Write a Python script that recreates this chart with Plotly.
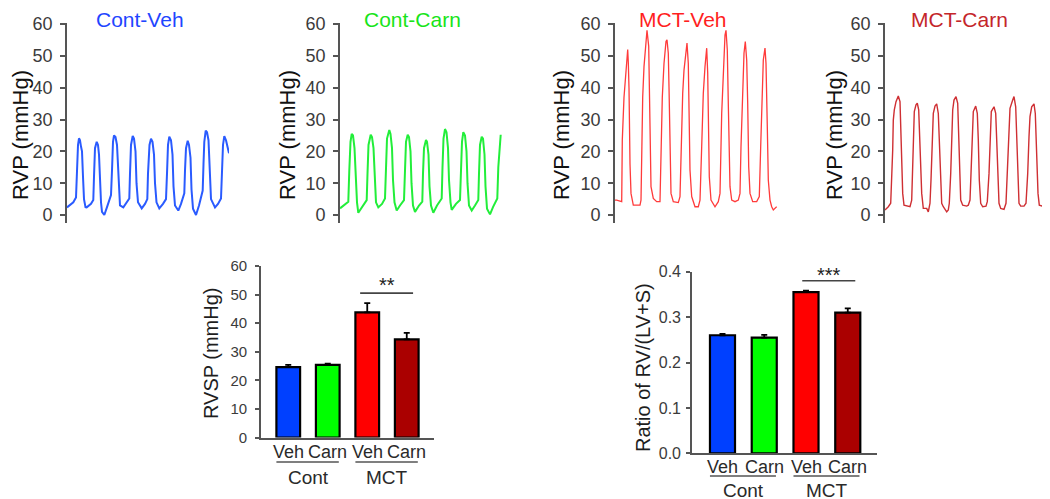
import plotly.graph_objects as go

W, H = 1050, 499
FONT = "Liberation Sans, Arial, Helvetica, sans-serif"

# ---------------- data: RVP traces (time units, mmHg) ----------------
cv_t = [0, 6.3, 9, 10, 11, 12, 13, 14, 15, 16, 17, 18.5, 19.7, 24, 26.3, 27, 28, 29.7, 31, 32, 33, 34, 35, 37.3,
        40, 44, 45, 46, 47, 48.5, 50, 51, 52, 53, 56.3, 59, 62.3, 63, 64, 65.7, 67, 68.5, 69.5, 71, 74.7, 78, 80.3,
        81, 82.5, 84, 85.5, 87, 88, 89.5, 92.3, 96, 99, 100, 101, 102.3, 104, 105.5, 106.5, 108, 111.3, 114, 117.3,
        118, 119, 120.7, 122, 123.5, 124.5, 126, 129, 132, 135.7, 136.5, 137.3, 138.7, 140, 141.5, 142.5, 144, 148,
        151, 154, 155, 156, 157.3, 159, 162]
cv_p = [2.4, 4, 5.5, 14, 22, 24.1, 23.5, 21.5, 20, 12, 5, 2.5, 2.4, 3.5, 4.7, 12, 21, 23, 22, 19, 10, 4, 1, 0,
        2.5, 6.3, 14, 23, 25, 24.5, 22, 14, 6, 3, 2.4, 3.5, 5.2, 13, 22, 24.8, 24, 20, 10, 4, 2.1, 3.5, 5,
        13, 22, 24, 23, 19, 10, 4, 2.1, 3.5, 5, 13, 22, 24.6, 23.5, 19, 9, 3, 1.4, 3.5, 6.8,
        14, 21, 23.3, 22, 18, 8, 2, 0, 3, 7.7, 16, 23, 26.5, 26, 23.5, 14, 5, 2.4,
        3.5, 5.2, 14, 22, 24.8, 23.5, 19.4]

cc_t = [0, 6, 8.3, 9.3, 10.5, 11.7, 13, 14.5, 15.5, 17, 18.3, 22, 26.7, 27.5, 28.5, 30.7, 32, 33.5, 34.5, 36, 38.3,
        42, 45, 46, 47, 49.3, 50.5, 52, 53, 54.5, 56.7, 60, 64, 65, 66, 67.7, 69, 70.5, 71.5, 73, 75, 79, 82.3, 83,
        84, 86, 87, 88.5, 89.5, 91, 93.3, 97, 101.7, 102.5, 103.5, 105, 106.5, 108, 109, 110.5, 111.7, 116, 120, 121,
        122, 123.3, 125, 126.5, 127.5, 129, 131.7, 135, 138.3, 139, 140, 141.7, 143, 144.5, 145.5, 147, 150, 153,
        157.3, 158.3, 160.7]
cc_p = [2.1, 3.5, 4.2, 14, 23, 25.5, 25, 21, 12, 4, 0.7, 2.5, 4.7, 13, 22, 25.2, 24.5, 21, 12, 4, 2.4,
        3.5, 5.2, 15, 24, 26.7, 25.5, 21, 11, 4, 1.4, 3, 4.7, 14, 23, 25.2, 24.5, 20, 10, 3, 1, 3, 4.2, 13,
        21, 23.6, 23, 19, 9, 3, 0.7, 3, 5.2, 15, 24, 27, 26, 21, 11, 4, 1.6, 3.5, 4.7, 14,
        23, 26, 25, 20, 10, 3, 1.4, 3, 4.7, 13, 22, 24.6, 24, 19, 9, 2, 0.2, 2.5,
        5.2, 15, 25.2]

mv_t = [0, 1.7, 6.7, 7.3, 9, 10, 11.7, 12.7, 13.3, 14, 15, 16, 18.3, 25, 26, 26.7, 27.7, 29, 30.7, 32, 33.7, 34.3,
        35, 36, 38.3, 41.7, 45, 46, 47.3, 49, 51, 52, 53.3, 54, 55, 56, 58.3, 63.3, 65, 66, 67.7, 69, 71, 72, 73.3,
        74.3, 75, 76.7, 80, 83.3, 85, 86.7, 88.3, 90, 91.7, 92.7, 93.7, 94.3, 96, 100, 103.3, 105, 106.7, 108.3,
        110, 111, 112.3, 113.3, 114, 115, 116.7, 120, 123.3, 125, 126, 127.3, 129, 130.3, 131.7, 132.7, 133.7, 135,
        137.7, 141.7, 144.3, 145.7, 147, 148.3, 150, 151, 152.3, 153.3, 155, 156.7, 158.3, 160, 161.7]
mv_p = [4.7, 4.7, 4.2, 23.6, 37, 41, 47.6, 52, 48, 40, 16, 6.8, 3.1, 3.1, 4.7, 17, 37, 46.6, 55, 58, 53, 42.4,
        19.4, 8.9, 5.2, 4.2, 4.2, 17, 37, 47.6, 54.5, 55, 50.8, 40.3, 15.2, 6.8, 4.2, 3.9, 5.8, 19.4, 38.2, 45.5,
        52.9, 54, 47.6, 29.8, 14.1, 5.8, 2.6, 2.6, 4.7, 21.5, 38.2, 46.6, 52.4, 44.6, 24.6, 12, 4.7, 2.6, 4.2,
        6.8, 31.9, 45.5, 56.5, 58, 51.8, 35, 17.3, 8.9, 4.7, 4.2, 4.7, 6.8, 21.5, 37.2, 50.8, 54.5, 48.7, 35,
        15.2, 6.8, 4.2, 4.2, 5.8, 21.5, 37.2, 48.7, 52.4, 47.6, 27.7, 11, 4.7, 2.6, 1.6, 2.1, 2.6]

mc_t = [0, 3.3, 5.7, 6.7, 7.7, 8.3, 9.3, 11, 13.3, 15, 16, 17, 17.7, 19, 23.3, 25, 26.7, 27.3, 28.3, 29.3, 31,
        32.3, 33.7, 35, 35.7, 36.7, 38.3, 41.7, 43.3, 45, 46, 47, 48.3, 50, 51.7, 53.3, 54.3, 55.3, 56.7, 58.3,
        61.7, 63.3, 64.3, 65.7, 66.7, 67.7, 69, 71, 72.7, 73.7, 74.7, 75.7, 77.7, 81.7, 83.3, 85, 86, 87, 88.3,
        90.7, 92.3, 93.3, 94.3, 95.7, 97.7, 101, 102.3, 104, 105, 106.3, 109, 110.7, 111.7, 112.7, 114, 115.7,
        119, 121, 122.3, 123.3, 125, 127.7, 129, 130.7, 131.7, 132.7, 134, 135.7, 139, 141, 142.7, 144, 145,
        146.7, 149, 150.3, 151, 152, 153, 154.3, 157.7, 160, 161.7]
mc_p = [1.6, 2.6, 3.7, 11, 20.4, 29.8, 33, 35.6, 37.4, 35.6, 26.7, 16.2, 6.8, 3.1, 2.8, 2.6, 4.7, 12, 24.6, 32.5,
        34.6, 35.1, 33, 23.6, 15.2, 6.8, 2.1, 2.1, 1, 3.7, 11, 23.6, 31.9, 34.2, 34.9, 31.9, 21.5, 11, 3.7, 2.6,
        1, 1.6, 3.7, 13, 25.7, 33, 36.1, 37.2, 35.1, 25.7, 13, 4.7, 3.1, 2.8, 3.1, 4.7, 13, 24.6, 32.5,
        34.2, 31.9, 23.6, 11, 3.7, 2.6, 2.8, 4.2, 13, 23.6, 32.5, 34, 31.9, 23.6, 12, 3.7, 2.1,
        1.8, 3.7, 13, 24.6, 33.5, 36.1, 37.2, 34, 24.6, 12, 3.7, 2.8, 2.8, 3.7, 13, 24.6, 30.9,
        34, 34.9, 31.9, 26.7, 16.2, 6.8, 3.1, 2.8, 1.6, 1.4]

trace_titles = ["Cont-Veh", "Cont-Carn", "MCT-Veh", "MCT-Carn"]
rvp_ticks = [0, 10, 20, 30, 40, 50, 60]

# ---------------- data: bar charts ----------------
groups = ["Cont", "MCT"]
bar_labels = ["Veh", "Carn", "Veh", "Carn"]
rvsp_mean = [24.6, 25.4, 43.8, 34.3]
rvsp_sem = [0.8, 0.4, 3.2, 2.3]
rvsp_ticks = [0, 10, 20, 30, 40, 50, 60]
ratio_mean = [0.260, 0.255, 0.355, 0.310]
ratio_sem = [0.003, 0.006, 0.003, 0.009]
ratio_ticks = [0.0, 0.1, 0.2, 0.3, 0.4]
rvsp_sig = 50.5
ratio_sig = 0.380

# ---------------- styles ----------------
trace_colors = ["#2a5bff", "#22ee3a", "#ff3b3b", "#cf2f33"]
trace_widths = [2.0, 2.0, 1.3, 1.4]
title_colors = ["#1f46ff", "#18e41a", "#ff1f1f", "#c4262a"]
bar_colors = ["#0040ff", "#00ff00", "#ff0000", "#aa0000"]
AX = "#555555"
TXT = "#3b3b3b"

# the page shows the figure with the browser's default 8px body margin
OFF = 8


def px(xp):
    return (xp - OFF) / W


def py(yp):
    return 1 - (yp - OFF) / H


fig = go.Figure()
layout = dict(width=W, height=H, margin=dict(l=0, r=0, t=0, b=0, pad=0, autoexpand=False),
              paper_bgcolor="white", plot_bgcolor="white", showlegend=False,
              font=dict(family=FONT, color=TXT), template="none")
annotations = []
shapes = []

top_axes_px = [67, 340, 615, 885]
top_ylab_gap = [46, 52, 53, 50]
top_title_px = [140, 412, 683, 959]
series = [(cv_t, cv_p), (cc_t, cc_p), (mv_t, mv_p), (mc_t, mc_p)]
for i, (t, p) in enumerate(series):
    n = i + 1
    xa = "x" if n == 1 else f"x{n}"
    ya = "y" if n == 1 else f"y{n}"
    fig.add_trace(go.Scatter(x=t, y=p, mode="lines", xaxis=xa, yaxis=ya,
                             line=dict(color=trace_colors[i], width=trace_widths[i]),
                             hoverinfo="skip"))
    x0 = top_axes_px[i]
    layout[f"xaxis{n if n > 1 else ''}"] = dict(domain=[px(x0), px(x0 + 162)], range=[0, 162],
                                                  visible=False, anchor=ya, automargin=False)
    layout[f"yaxis{n if n > 1 else ''}"] = dict(
        domain=[py(223), py(23)], range=[-2.5, 60.3], anchor=xa, automargin=False,
        showline=True, linecolor=AX, linewidth=1.6, ticks="outside", ticklen=5,
        tickcolor=AX, tickwidth=1.5, tickvals=rvp_ticks, showgrid=False, zeroline=False,
        tickfont=dict(size=18, color=TXT, family=FONT), ticklabelstandoff=4)
    annotations.append(dict(text="RVP (mmHg)", textangle=-90, xref="paper", yref="paper",
                            x=px(x0 - top_ylab_gap[i]), y=py(135), showarrow=False,
                            font=dict(size=22, color="#111111", family=FONT),
                            xanchor="center", yanchor="middle"))
    annotations.append(dict(text=trace_titles[i], xref="paper", yref="paper",
                            x=px(top_title_px[i]), y=py(19), showarrow=False,
                            font=dict(size=21, color=title_colors[i], family=FONT),
                            xanchor="center", yanchor="middle"))

cats = [0, 1, 2, 3]
bar_specs = [
    dict(n=5, mean=rvsp_mean, sem=rvsp_sem, ticks=rvsp_ticks, fmt="", xdom=(261, 434),
         ydom=(437.5, 266), xr=[-0.69, 3.69], yr=[0, 60], title="RVSP (mmHg)", title_x=211,
         title_y=353, title_size=20, tick_size=15, standoff=5, sig=rvsp_sig, sig_x=(1.82, 3.16),
         star="**", star_y=53.2, lab_y=452, under_y=462, grp_y=477),
    dict(n=6, mean=ratio_mean, sem=ratio_sem, ticks=ratio_ticks, fmt=".1f", xdom=(692, 877),
         ydom=(453.3, 271.7), xr=[-0.73, 3.70], yr=[0, 0.4], title="Ratio of RV/(LV+S)", title_x=643,
         title_y=368, title_size=20, tick_size=16, standoff=2, sig=ratio_sig, sig_x=(1.91, 3.18),
         star="***", star_y=0.392, lab_y=467, under_y=476, grp_y=490),
]
for s in bar_specs:
    n = s["n"]
    xa, ya = f"x{n}", f"y{n}"
    fig.add_trace(go.Bar(x=cats, y=s["mean"], xaxis=xa, yaxis=ya, width=0.6,
                         marker=dict(color=bar_colors, line=dict(color="black", width=2.2)),
                         error_y=dict(type="data", array=s["sem"], arrayminus=[0] * 4,
                                      symmetric=False, color="black", thickness=1.8, width=3),
                         hoverinfo="skip"))
    layout[f"xaxis{n}"] = dict(domain=[px(s["xdom"][0]), px(s["xdom"][1])], range=s["xr"],
                               anchor=ya, showline=True, linecolor=AX, linewidth=1.6,
                               automargin=False, showticklabels=False, ticks="",
                               showgrid=False, zeroline=False)
    layout[f"yaxis{n}"] = dict(domain=[py(s["ydom"][0]), py(s["ydom"][1])], range=s["yr"],
                               anchor=xa, showline=True, linecolor=AX, linewidth=1.6,
                               automargin=False, ticks="outside", ticklen=4, tickcolor=AX,
                               tickwidth=1.5, tickvals=s["ticks"], tickformat=s["fmt"],
                               showgrid=False, zeroline=False, ticklabelstandoff=s["standoff"],
                               tickfont=dict(size=s["tick_size"], color=TXT, family=FONT))
    annotations.append(dict(text=s["title"], textangle=-90, xref="paper", yref="paper",
                            x=px(s["title_x"]), y=py(s["title_y"]), showarrow=False,
                            font=dict(size=s["title_size"], color="#1e1e1e", family=FONT),
                            xanchor="center", yanchor="middle"))
    for c, lab in zip(cats, bar_labels):
        annotations.append(dict(text=lab, xref=xa, yref="paper", x=c, y=py(s["lab_y"]),
                                showarrow=False, font=dict(size=18, color="#2a2a2a", family=FONT),
                                xanchor="center", yanchor="middle"))
    shapes.append(dict(type="line", xref=xa, yref=ya, x0=s["sig_x"][0], x1=s["sig_x"][1],
                       y0=s["sig"], y1=s["sig"], line=dict(color="#444444", width=1.6)))
    annotations.append(dict(text=s["star"], xref=xa, yref=ya, x=sum(s["sig_x"]) / 2, y=s["star_y"],
                            showarrow=False, font=dict(size=20, color="#222222", family=FONT),
                            xanchor="center", yanchor="middle"))
    for g, (a, b) in enumerate([(0, 1), (2, 3)]):
        shapes.append(dict(type="line", xref=xa, yref="paper", x0=a - 0.3, x1=b + 0.28,
                           y0=py(s["under_y"]), y1=py(s["under_y"]),
                           line=dict(color="#555555", width=1.6)))
        annotations.append(dict(text=groups[g], xref=xa, yref="paper", x=(a + b) / 2,
                                y=py(s["grp_y"]), showarrow=False,
                                font=dict(size=19, color="#2a2a2a", family=FONT),
                                xanchor="center", yanchor="middle"))

layout["annotations"] = annotations
layout["shapes"] = shapes
fig.update_layout(**layout)
fig.write_html("out.html")
